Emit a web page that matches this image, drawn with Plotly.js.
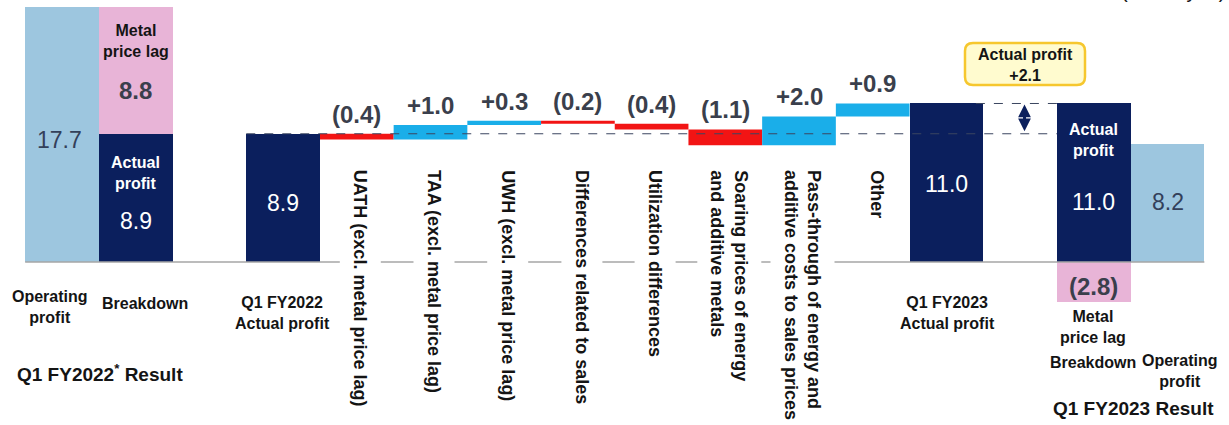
<!DOCTYPE html>
<html>
<head>
<meta charset="utf-8">
<script src="https://cdn.plot.ly/plotly-3.0.1.min.js"></script>
<style>
  html, body { margin: 0; padding: 0; background: #ffffff; }
  #chart { width: 1229px; height: 425px; }
</style>
</head>
<body>
<div id="chart"></div>
<script>
// ---- Data (billion yen) ----
const fy2022Operating = 17.7;   // Q1 FY2022 operating profit
const fy2022Actual = 8.9;       // of which: actual profit
const fy2022Lag = 8.8;          // of which: metal price lag
const fy2023Actual = 11.0;      // Q1 FY2023 actual profit
const fy2023Lag = -2.8;         // Q1 FY2023 metal price lag
const fy2023Operating = 8.2;    // Q1 FY2023 operating profit

const stepCategories = [
  'UATH (excl. metal price lag)',
  'TAA (excl. metal price lag)',
  'UWH (excl. metal price lag)',
  'Differences related to sales',
  'Utilization differences',
  'Soaring prices of energy<br>and additive metals',
  'Pass-through of energy and<br>additive costs to sales prices',
  'Other'
];
const stepValues = [-0.4, 1.0, 0.3, -0.2, -0.4, -1.1, 2.0, 0.9];

// ---- Slot positions along the x axis ----
const SLOT_OP22 = 0, SLOT_BD22 = 1, SLOT_ACT22 = 3, SLOT_STEP0 = 4;
const SLOT_ACT23 = 12, SLOT_ARROW = 13, SLOT_BD23 = 14, SLOT_OP23 = 15;
const stepSlots = stepValues.map((_, i) => SLOT_STEP0 + i);

// ---- Styling ----
const W = 1229, H = 425;
const FONT = '"Liberation Sans", Arial, Helvetica, sans-serif';
const C = {
  light: '#9dc6df',
  navy: '#0b1f5d',
  pink: '#e8b4d7',
  up: '#1aaee9',
  down: '#f21414',
  value: '#3a3f4c',
  slate: '#33405a',
  ink: '#141414',
  base: '#a6a6a6',
  dash: '#3b4660'
};

// pixel helpers for paper-referenced layout items
const py = p => 1 - p / H;
const px = p => p / W;
const fmt = v => (v < 0 ? '(' + Math.abs(v).toFixed(1) + ')' : '+' + v.toFixed(1));

// ---- Traces ----
const traces = [
  {
    type: 'bar', name: 'Operating profit',
    x: [SLOT_OP22, SLOT_OP23], y: [fy2022Operating, fy2023Operating],
    width: 1, marker: { color: C.light, line: { width: 0 } }, hoverinfo: 'none'
  },
  {
    type: 'bar', name: 'Actual profit',
    x: [SLOT_BD22, SLOT_ACT22, SLOT_ACT23, SLOT_BD23],
    y: [fy2022Actual, fy2022Actual, fy2023Actual, fy2023Actual],
    width: 1, marker: { color: C.navy, line: { width: 0 } }, hoverinfo: 'none'
  },
  {
    type: 'bar', name: 'Metal price lag',
    x: [SLOT_BD22, SLOT_BD23], y: [fy2022Lag, fy2023Lag], base: [fy2022Actual, 0],
    width: 1, marker: { color: C.pink, line: { width: 0 } }, hoverinfo: 'none'
  },
  {
    type: 'waterfall', name: 'Change factors',
    x: stepSlots, y: stepValues, measure: stepValues.map(() => 'relative'),
    base: fy2022Actual, width: 1,
    increasing: { marker: { color: C.up, line: { width: 0 } } },
    decreasing: { marker: { color: C.down, line: { width: 0 } } },
    connector: { visible: false }, textinfo: 'none', hoverinfo: 'none'
  }
];

// ---- Annotations ----
const ann = [];
const txt = (o) => ann.push(Object.assign({ showarrow: false, xanchor: 'center', yanchor: 'middle' }, o));

// value labels above each step bar
let level = fy2022Actual;
stepValues.forEach((v, i) => {
  const top = Math.max(level, level + v);
  txt({ x: stepSlots[i], y: top, xref: 'x', yref: 'y', yanchor: 'bottom', yshift: 4,
        text: '<b>' + fmt(v) + '</b>', font: { family: FONT, size: 24, color: C.value } });
  level += v;
});

// rotated category labels under the step bars
stepCategories.forEach((c, i) => {
  txt({ x: stepSlots[i], xref: 'x', y: py(159), yref: 'paper', yanchor: 'top', xshift: 4,
        textangle: 90, align: 'left', text: c, bgcolor: '#ffffff', borderpad: 10,
        font: { family: FONT, size: 18, color: C.ink, weight: 'bold' } });
});

// labels inside the bars
const white = { family: FONT, size: 23, color: '#ffffff' };
txt({ x: SLOT_OP22, xref: 'x', y: py(140), yref: 'paper', xshift: -3, text: fy2022Operating.toFixed(1),
      font: { family: FONT, size: 23, color: C.slate } });
txt({ x: SLOT_BD22, xref: 'x', y: py(41), yref: 'paper', text: '<b>Metal<br>price lag</b>',
      font: { family: FONT, size: 16, color: C.ink } });
txt({ x: SLOT_BD22, xref: 'x', y: py(90), yref: 'paper', text: '<b>' + fy2022Lag.toFixed(1) + '</b>',
      font: { family: FONT, size: 24, color: C.value } });
txt({ x: SLOT_BD22, xref: 'x', y: py(173), yref: 'paper', text: '<b>Actual<br>profit</b>',
      font: { family: FONT, size: 16, color: '#ffffff' } });
txt({ x: SLOT_BD22, xref: 'x', y: py(221), yref: 'paper', text: fy2022Actual.toFixed(1), font: white });
txt({ x: SLOT_ACT22, xref: 'x', y: py(203), yref: 'paper', text: fy2022Actual.toFixed(1), font: white });
txt({ x: SLOT_ACT23, xref: 'x', y: py(184), yref: 'paper', text: fy2023Actual.toFixed(1), font: white });
txt({ x: SLOT_BD23, xref: 'x', y: py(140), yref: 'paper', text: '<b>Actual<br>profit</b>',
      font: { family: FONT, size: 16, color: '#ffffff' } });
txt({ x: SLOT_BD23, xref: 'x', y: py(202), yref: 'paper', text: fy2023Actual.toFixed(1), font: white });
txt({ x: SLOT_OP23, xref: 'x', y: py(202), yref: 'paper', text: fy2023Operating.toFixed(1),
      font: { family: FONT, size: 23, color: C.slate } });
txt({ x: SLOT_BD23, xref: 'x', y: py(286), yref: 'paper', text: '<b>' + fmt(fy2023Lag) + '</b>',
      font: { family: FONT, size: 24, color: C.value } });

// axis-style labels under the baseline
const lab = { family: FONT, size: 16, color: C.ink };
const big = { family: FONT, size: 19, color: C.ink };
txt({ x: px(50), xref: 'paper', y: py(307), yref: 'paper', text: '<b>Operating<br>profit</b>', font: lab });
txt({ x: px(145), xref: 'paper', y: py(303), yref: 'paper', text: '<b>Breakdown</b>', font: lab });
txt({ x: px(282), xref: 'paper', y: py(313), yref: 'paper', text: '<b>Q1 FY2022<br>Actual profit</b>', font: lab });
txt({ x: px(100), xref: 'paper', y: py(373), yref: 'paper', text: '<b>Q1 FY2022<sup>*</sup> Result</b>', font: big });
txt({ x: px(947), xref: 'paper', y: py(313), yref: 'paper', text: '<b>Q1 FY2023<br>Actual profit</b>', font: lab });
txt({ x: px(1093), xref: 'paper', y: py(327), yref: 'paper', text: '<b>Metal<br>price lag</b>', font: lab });
txt({ x: px(1093), xref: 'paper', y: py(362), yref: 'paper', text: '<b>Breakdown</b>', font: lab });
txt({ x: px(1180), xref: 'paper', y: py(371), yref: 'paper', text: '<b>Operating<br>profit</b>', font: lab });
txt({ x: px(1133), xref: 'paper', y: py(408), yref: 'paper', text: '<b>Q1 FY2023 Result</b>', font: big });

// unit note in the top-right corner (runs off the top edge)
txt({ x: px(1227), xref: 'paper', xanchor: 'right', y: py(4), yref: 'paper', yanchor: 'bottom',
      text: '(Billion yen)', font: { family: FONT, size: 20, color: C.ink } });

// call-out box text
txt({ x: px(1025), xref: 'paper', y: py(65), yref: 'paper',
      text: '<b>Actual profit<br>' + fmt(fy2023Actual - fy2022Actual) + '</b>', font: lab });

// double-headed arrow showing the change in actual profit
ann.push({ x: SLOT_ARROW + 0.06, y: fy2023Actual, ax: SLOT_ARROW + 0.06, ay: fy2022Actual,
           xref: 'x', yref: 'y', axref: 'x', ayref: 'y', text: '', showarrow: true,
           arrowside: 'end+start', arrowhead: 2, arrowsize: 0.85, arrowwidth: 3,
           arrowcolor: C.navy, standoff: 1, startstandoff: 1 });

// ---- Shapes ----
function roundRect(x0, y0, x1, y1, r) {
  const P = (x, y) => px(x).toFixed(5) + ',' + py(y).toFixed(5);
  return 'M' + P(x0 + r, y0) + ' L' + P(x1 - r, y0) + ' Q' + P(x1, y0) + ' ' + P(x1, y0 + r) +
         ' L' + P(x1, y1 - r) + ' Q' + P(x1, y1) + ' ' + P(x1 - r, y1) +
         ' L' + P(x0 + r, y1) + ' Q' + P(x0, y1) + ' ' + P(x0, y1 - r) +
         ' L' + P(x0, y0 + r) + ' Q' + P(x0, y0) + ' ' + P(x0 + r, y0) + ' Z';
}

const shapes = [
  // baseline
  { type: 'line', xref: 'x', yref: 'y', x0: SLOT_OP22 - 0.5, x1: SLOT_OP23 + 0.5, y0: 0, y1: 0,
    line: { color: C.base, width: 1.5 }, layer: 'above' },
  // reference level: Q1 FY2022 actual profit
  { type: 'line', xref: 'x', yref: 'y', x0: SLOT_ACT22 - 0.5, x1: SLOT_ARROW + 0.5, y0: fy2022Actual, y1: fy2022Actual,
    line: { color: C.dash, width: 1, dash: 'dash' }, layer: 'above' },
  // reference level: Q1 FY2023 actual profit
  { type: 'line', xref: 'x', yref: 'y', x0: SLOT_ACT23 + 0.4, x1: SLOT_ARROW + 0.5, y0: fy2023Actual, y1: fy2023Actual,
    line: { color: C.dash, width: 1, dash: 'dash' }, layer: 'above' },
  // call-out box
  { type: 'path', xref: 'paper', yref: 'paper', path: roundRect(965, 43, 1085, 85, 8),
    fillcolor: '#fffbcf', line: { color: '#f6c72e', width: 2.5 }, layer: 'above' }
];

// ---- Layout ----
const PX_PER_SLOT = 73.7, SLOT0_PX = 62;
const PX_PER_UNIT = 14.41, BASE_PX = 262;
const layout = {
  width: W, height: H,
  margin: { l: 0, r: 0, t: 0, b: 0 },
  paper_bgcolor: '#ffffff', plot_bgcolor: '#ffffff',
  barmode: 'overlay', bargap: 0,
  showlegend: false,
  font: { family: FONT },
  xaxis: { range: [-SLOT0_PX / PX_PER_SLOT, (W - SLOT0_PX) / PX_PER_SLOT],
           visible: false, fixedrange: true },
  yaxis: { range: [(BASE_PX - H) / PX_PER_UNIT, BASE_PX / PX_PER_UNIT],
           visible: false, fixedrange: true },
  annotations: ann,
  shapes: shapes
};

Plotly.newPlot('chart', traces, layout, { displayModeBar: false, staticPlot: true });
</script>
</body>
</html>
